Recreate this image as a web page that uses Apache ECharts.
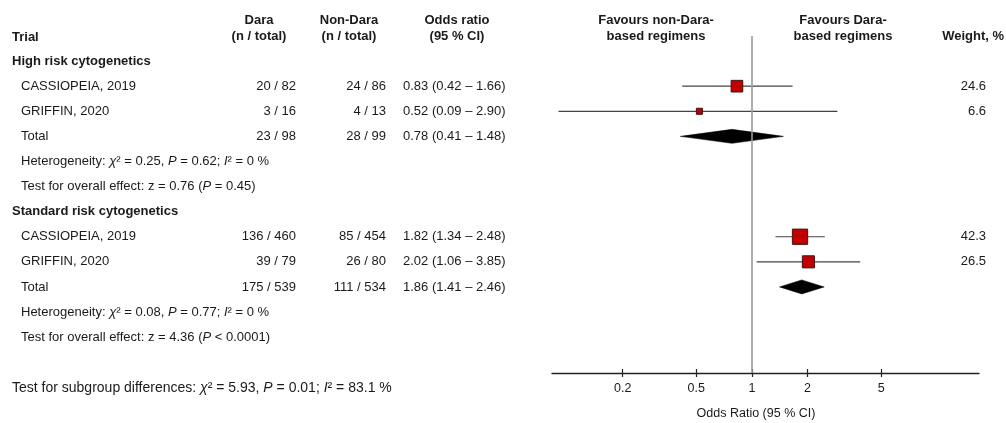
<!DOCTYPE html>
<html><head><meta charset="utf-8">
<script src="https://cdn.jsdelivr.net/npm/echarts@6/dist/echarts.min.js"></script>
<style>html,body{margin:0;padding:0;background:#fff}#c{width:1006px;height:423px}</style>
</head><body><div id="c"></div>
<script>
// ---------------- data ----------------
const groups = ['High risk cytogenetics', 'Standard risk cytogenetics'];
const studyNames = ['CASSIOPEIA, 2019', 'GRIFFIN, 2020', 'Total', 'CASSIOPEIA, 2019', 'GRIFFIN, 2020', 'Total'];
const daraCounts = ['20 / 82', '3 / 16', '23 / 98', '136 / 460', '39 / 79', '175 / 539'];
const nonDaraCounts = ['24 / 86', '4 / 13', '28 / 99', '85 / 454', '26 / 80', '111 / 534'];
const oddsRatio = [0.83, 0.52, 0.78, 1.82, 2.02, 1.86];
const ciLower = [0.42, 0.09, 0.41, 1.34, 1.06, 1.41];
const ciUpper = [1.66, 2.90, 1.48, 2.48, 3.85, 2.46];
const weights = [24.6, 6.6, null, 42.3, 26.5, null];
const isTotal = [false, false, true, false, false, true];
const rowIndex = [1, 2, 3, 7, 8, 9];
const groupRows = [0, 6];
const hetRows = [4, 10];
const effectRows = [5, 11];
const heterogeneity = [{chi2: '0.25', p: '0.62', i2: '0'}, {chi2: '0.08', p: '0.77', i2: '0'}];
const overallEffect = [{z: '0.76', p: '= 0.45'}, {z: '4.36', p: '< 0.0001'}];
const subgroupTest = {chi2: '5.93', p: '0.01', i2: '83.1'};
const tickValues = [0.2, 0.5, 1, 2, 5];
const axisExtentOR = [0.083, 16.9];

// ---------------- chart ----------------
const FONT = '"Liberation Sans", Arial, Helvetica, sans-serif';
const TXT = '#1a1a1a';
const lg = v => Math.log10(v);
const chart = echarts.init(document.getElementById('c'), null, {renderer: 'canvas'});

const studyData = [], totalData = [];
oddsRatio.forEach((or, i) => {
  const d = [lg(ciLower[i]), lg(ciUpper[i]), lg(or), rowIndex[i], weights[i] || 0];
  (isTotal[i] ? totalData : studyData).push(d);
});

const xAxisBase = {
  type: 'value', gridIndex: 0, position: 'bottom',
  min: lg(axisExtentOR[0]), max: lg(axisExtentOR[1]),
  splitLine: {show: false}
};

chart.setOption({
  animation: false,
  backgroundColor: '#fff',
  grid: {left: 552, right: 27, top: 36, bottom: 50, containLabel: false},
  xAxis: [
    Object.assign({}, xAxisBase, {
      axisLine: {show: true, onZero: false, lineStyle: {color: '#222', width: 1.3}},
      axisTick: {show: true, inside: false, length: 4, lineStyle: {color: '#222', width: 1.2},
        customValues: tickValues.map(lg)},
      axisLabel: {show: true, margin: 9, color: TXT, fontFamily: FONT, fontSize: 12.5,
        customValues: tickValues.map(lg),
        formatter: v => String(Math.round(Math.pow(10, v) * 10) / 10)}
    }),
    Object.assign({}, xAxisBase, {
      axisLine: {show: false, onZero: false},
      axisTick: {show: true, inside: true, length: 4, lineStyle: {color: '#222', width: 1.2},
        customValues: tickValues.map(lg)},
      axisLabel: {show: false}
    })
  ],
  yAxis: {type: 'value', inverse: true, min: -1, max: 12.43, show: false},
  series: [
    {
      type: 'custom', name: 'studies', xAxisIndex: 0,
      data: studyData,
      encode: {x: [0, 1, 2], y: 3},
      renderItem: (params, api) => {
        const pLo = api.coord([api.value(0), api.value(3)]);
        const pHi = api.coord([api.value(1), api.value(3)]);
        const pC = api.coord([api.value(2), api.value(3)]);
        const s = 2.35 * Math.sqrt(api.value(4));
        return {type: 'group', children: [
          {type: 'line', shape: {x1: pLo[0], y1: pLo[1], x2: pHi[0], y2: pHi[1]},
            style: {stroke: '#444', lineWidth: 1.2}},
          {type: 'rect', shape: {x: pC[0] - s / 2, y: pC[1] - s / 2, width: s, height: s},
            style: {fill: '#c00000', stroke: '#4a1010', lineWidth: 1}}
        ]};
      },
      markLine: {
        silent: true, symbol: 'none', label: {show: false},
        lineStyle: {color: '#9a9a9a', width: 1.6, type: 'solid'},
        data: [{xAxis: lg(1)}]
      },
      z: 3
    },
    {
      type: 'custom', name: 'totals', xAxisIndex: 0,
      data: totalData,
      encode: {x: [0, 1, 2], y: 3},
      renderItem: (params, api) => {
        const pLo = api.coord([api.value(0), api.value(3)]);
        const pHi = api.coord([api.value(1), api.value(3)]);
        const pC = api.coord([api.value(2), api.value(3)]);
        const h = 7;
        return {type: 'polygon', shape: {points: [[pLo[0], pLo[1]], [pC[0], pC[1] - h], [pHi[0], pHi[1]], [pC[0], pC[1] + h]]},
          style: {fill: '#000', stroke: '#000', lineWidth: 0.5}};
      },
      z: 4
    }
  ]
});

// ---------------- text table (rows positioned via the y scale) ----------------
const rowY = r => chart.convertToPixel({yAxisIndex: 0}, r);
const txt = (text, x, y, opts = {}) => ({
  type: 'text', x, y, silent: true,
  style: Object.assign({text, fill: TXT, fontFamily: FONT, fontSize: 13, align: 'left', verticalAlign: 'middle',
    rich: {i: {fontStyle: 'italic', fontFamily: FONT, fontSize: opts.fontSize || 13, fill: TXT}}}, opts)
});
const bold = {fontWeight: 'bold'};
const g = [];
// headers
g.push(txt('Trial', 12, 37, bold));
g.push(txt('Dara', 259, 20, Object.assign({align: 'center'}, bold)));
g.push(txt('(n / total)', 259, 36, Object.assign({align: 'center'}, bold)));
g.push(txt('Non-Dara', 349, 20, Object.assign({align: 'center'}, bold)));
g.push(txt('(n / total)', 349, 36, Object.assign({align: 'center'}, bold)));
g.push(txt('Odds ratio', 457, 20, Object.assign({align: 'center'}, bold)));
g.push(txt('(95 % CI)', 457, 36, Object.assign({align: 'center'}, bold)));
g.push(txt('Favours non-Dara-', 656, 20, Object.assign({align: 'center'}, bold)));
g.push(txt('based regimens', 656, 36, Object.assign({align: 'center'}, bold)));
g.push(txt('Favours Dara-', 843, 20, Object.assign({align: 'center'}, bold)));
g.push(txt('based regimens', 843, 36, Object.assign({align: 'center'}, bold)));
g.push(txt('Weight, %', 1004, 36, Object.assign({align: 'right'}, bold)));
// groups
groups.forEach((name, k) => {
  g.push(txt(name, 12, rowY(groupRows[k]), bold));
  const h = heterogeneity[k];
  g.push(txt('Heterogeneity: {i|χ}² = ' + h.chi2 + ', {i|P} = ' + h.p + '; {i|I}² = ' + h.i2 + ' %', 21, rowY(hetRows[k])));
  const e = overallEffect[k];
  g.push(txt('Test for overall effect: z = ' + e.z + ' ({i|P} ' + e.p + ')', 21, rowY(effectRows[k])));
});
// study rows
studyNames.forEach((name, i) => {
  const y = rowY(rowIndex[i]);
  g.push(txt(name, 21, y));
  g.push(txt(daraCounts[i], 296, y, {align: 'right'}));
  g.push(txt(nonDaraCounts[i], 386, y, {align: 'right'}));
  g.push(txt(oddsRatio[i].toFixed(2) + ' (' + ciLower[i].toFixed(2) + ' – ' + ciUpper[i].toFixed(2) + ')', 403, y));
  if (weights[i] != null) g.push(txt(weights[i].toFixed(1), 986, y, {align: 'right'}));
});
// bottom
g.push(txt('Test for subgroup differences: {i|χ}² = ' + subgroupTest.chi2 + ', {i|P} = ' + subgroupTest.p + '; {i|I}² = ' + subgroupTest.i2 + ' %', 12, 388, {fontSize: 14}));
g.push(txt('Odds Ratio (95 % CI)', 756, 414, {align: 'center', fontSize: 12.5}));

chart.setOption({graphic: {elements: g}});
</script>
</body></html>
